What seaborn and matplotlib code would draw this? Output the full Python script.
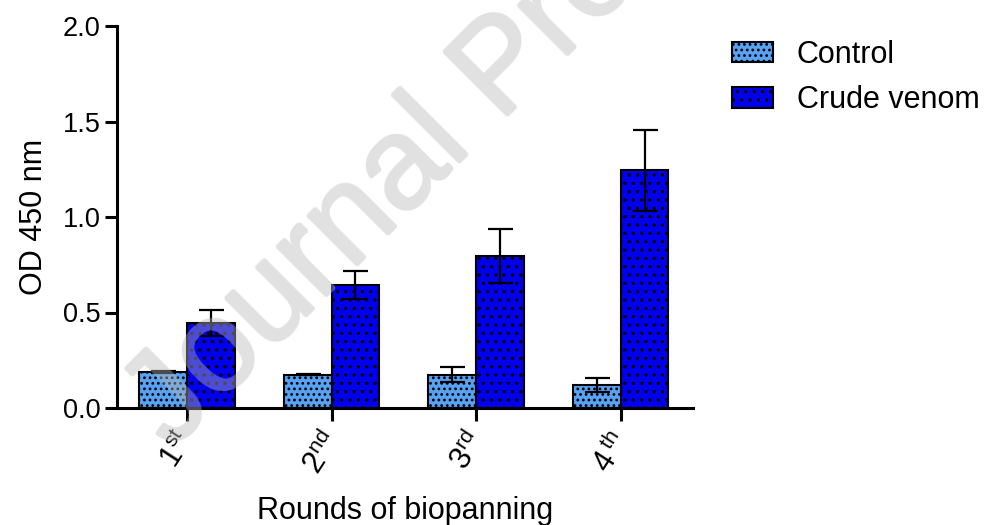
import numpy as np
import pandas as pd
import matplotlib
matplotlib.use("Agg")
import matplotlib.pyplot as plt
import matplotlib.patches as mpatches
from matplotlib.transforms import ScaledTranslation
import seaborn as sns

# ---- data ----
rounds = ["1st", "2nd", "3rd", "4th"]
tick_labels = [r"1$^{\mathrm{st}}$", r"2$^{\mathrm{nd}}$", r"3$^{\mathrm{rd}}$", r"4$\,^{\mathrm{th}}$"]
groups = ["Control", "Crude venom"]
control_vals = [0.19, 0.175, 0.175, 0.12]
control_err = [0.006, 0.004, 0.038, 0.037]
venom_vals = [0.445, 0.645, 0.795, 1.245]
venom_err = [0.07, 0.072, 0.142, 0.213]
colors = ["#58A2F4", "#0000EE"]
hatches = ["...", ".."]

sns.set_style("ticks")
plt.rcParams["font.family"] = ["Liberation Sans", "DejaVu Sans"]
plt.rcParams["mathtext.fontset"] = "custom"
plt.rcParams["mathtext.rm"] = "Liberation Sans"
plt.rcParams["mathtext.it"] = "Liberation Sans:italic"
plt.rcParams["hatch.color"] = "black"
plt.rcParams["hatch.linewidth"] = 1.2
for k in ["text.color", "axes.labelcolor", "xtick.color", "ytick.color", "axes.edgecolor"]:
    plt.rcParams[k] = "black"

df = pd.DataFrame({
    "round": rounds * 2,
    "group": [groups[0]] * 4 + [groups[1]] * 4,
    "value": control_vals + venom_vals,
})
errs = [control_err, venom_err]

fig = plt.figure(figsize=(9.87, 5.25), dpi=100)
ax = fig.add_axes([117 / 987, 1 - 408 / 525, (693 - 117) / 987, (408 - 26) / 525])

sns.barplot(data=df, x="round", y="value", hue="group", palette=colors,
            errorbar=None, width=0.66, edgecolor="black", linewidth=1.5,
            ax=ax, legend=False, saturation=1)

for cont, h, err in zip(ax.containers, hatches, errs):
    xs, ys = [], []
    for p in cont.patches:
        p.set_hatch(h)
        xs.append(p.get_x() + p.get_width() / 2)
        ys.append(p.get_height())
    ax.errorbar(xs, ys, yerr=err, fmt="none", ecolor="black",
                elinewidth=1.6, capsize=9, capthick=1.6, zorder=5)

ax.set_xlim(-0.485, 3.5)
ax.set_ylim(0, 2.0)
ax.set_yticks([0, 0.5, 1.0, 1.5, 2.0])
ax.set_yticklabels(["0.0", "0.5", "1.0", "1.5", "2.0"], fontsize=19.5)
ax.set_xticks(range(len(rounds)))
ax.tick_params(axis="both", length=9, width=2.2, direction="out", pad=3)
ax.tick_params(axis="x", pad=5)
ax.set_xticklabels(tick_labels, fontsize=22, rotation=57, ha="right",
                   rotation_mode="anchor")
shift = ScaledTranslation(-12 / 100, 0, fig.dpi_scale_trans)
for lbl in ax.get_xticklabels():
    lbl.set_transform(lbl.get_transform() + shift)
for s in ["left", "bottom"]:
    ax.spines[s].set_linewidth(2.2)
sns.despine(ax=ax)
ax.set_xlabel("Rounds of biopanning", fontsize=22, labelpad=12)
ax.set_ylabel("OD 450 nm", fontsize=22, labelpad=10)

handles = [mpatches.Patch(facecolor=c, edgecolor="black", hatch=h, linewidth=1.5)
           for c, h in zip(colors, hatches)]
fig.legend(handles, groups, loc="upper left", bbox_to_anchor=(732 / 987, 1 - 40 / 525),
           frameon=False, fontsize=22, handlelength=1.34, handleheight=0.65,
           handletextpad=0.78, labelspacing=0.5, borderpad=0, borderaxespad=0)


# watermark: real text, slightly thickened and made translucent via an agg filter
def _thicken(img, dpi, r=1, alpha=0.42, grey=184 / 255):
    a = img[..., 3]
    padded = np.pad(a, 2 * r)
    h, w = a.shape[0] + 2 * r, a.shape[1] + 2 * r
    out = np.zeros((h, w))
    for dy in range(-r, r + 1):
        for dx in range(-r, r + 1):
            if dx * dx + dy * dy <= r * r + 1:
                out = np.maximum(out, padded[r + dy:r + dy + h, r + dx:r + dx + w])
    new = np.zeros((h, w, 4))
    new[..., :3] = grey
    new[..., 3] = out * alpha
    return new, -r, -r


wm = fig.text(172 / 987, 1 - 451 / 525, "Journal Pre-proof", fontsize=94, color="#b8b8b8",
              rotation=45, rotation_mode="anchor", ha="left", va="baseline", zorder=20)
wm.set_agg_filter(_thicken)

fig.savefig("out.png", dpi=100)
